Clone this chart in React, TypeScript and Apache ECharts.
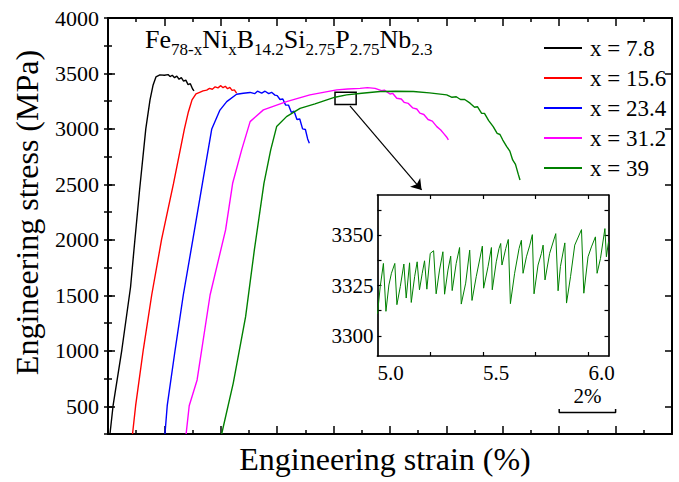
import React, { useEffect, useRef } from "react";
import * as echarts from "echarts";

const FONT = "Liberation Serif";

const legendNames = ["x = 7.8", "x = 15.6", "x = 23.4", "x = 31.2", "x = 39"];
const colors = ["#000000", "#ff0000", "#0000ff", "#ff00ff", "#008000"];

// x = 7.8
const strainA = [0.07, 0.18, 0.49, 0.8, 0.92, 1.12, 1.34, 1.49, 1.6, 1.7, 1.84, 2.0, 2.13, 2.2, 2.28, 2.36, 2.44, 2.52, 2.6, 2.68, 2.76, 2.84, 2.92, 3.0, 3.05];
const stressA = [250, 505, 1007, 1575, 1909, 2450, 3000, 3262, 3397, 3469, 3487, 3484, 3490, 3472, 3484, 3462, 3476, 3448, 3462, 3430, 3440, 3400, 3408, 3360, 3343];
// x = 15.6
const strainB = [0.87, 0.98, 1.25, 1.55, 1.9, 2.32, 2.71, 2.85, 2.98, 3.12, 3.25, 3.37, 3.5, 3.6, 3.7, 3.8, 3.9, 4.0, 4.08, 4.16, 4.24, 4.32, 4.4, 4.48, 4.56];
const stressB = [250, 505, 1007, 1503, 2004, 2504, 3000, 3153, 3262, 3316, 3330, 3343, 3350, 3366, 3358, 3380, 3370, 3390, 3372, 3385, 3362, 3375, 3348, 3352, 3322];
// x = 23.4
const strainC = [2.02, 2.1, 2.38, 2.67, 3.01, 3.38, 3.68, 3.97, 4.21, 4.56, 4.8, 5.04, 5.2, 5.3, 5.45, 5.57, 5.7, 5.8, 5.92, 6.0, 6.1, 6.2, 6.3, 6.4, 6.5, 6.6, 6.7, 6.8, 6.9, 7.0, 7.08, 7.14];
const stressC = [250, 505, 1007, 1503, 2004, 2556, 3000, 3170, 3246, 3313, 3322, 3329, 3318, 3340, 3322, 3340, 3318, 3330, 3305, 3300, 3265, 3270, 3215, 3215, 3150, 3160, 3085, 3090, 3000, 2995, 2910, 2871];
// x = 31.2
const strainD = [2.77, 2.88, 3.16, 3.62, 4.17, 4.42, 4.74, 5.04, 5.51, 6.33, 7.16, 8.11, 8.5, 8.94, 9.2, 9.47, 9.7, 9.8, 10.0, 10.1, 10.24, 10.4, 10.5, 10.65, 10.8, 10.95, 11.06, 11.2, 11.35, 11.5, 11.66, 11.8, 11.9, 12.0, 12.07];
const stressD = [250, 505, 737, 1503, 2090, 2510, 2811, 3066, 3172, 3246, 3307, 3352, 3360, 3366, 3372, 3366, 3345, 3350, 3315, 3320, 3277, 3270, 3240, 3230, 3190, 3180, 3142, 3130, 3085, 3070, 3021, 2990, 2960, 2930, 2901];
// x = 39
const strainE = [4.03, 4.44, 4.88, 5.19, 5.53, 5.77, 5.98, 6.33, 6.81, 7.34, 8.05, 8.46, 9.0, 9.65, 10.2, 10.83, 11.4, 12.01, 12.2, 12.35, 12.5, 12.65, 12.84, 13.0, 13.1, 13.25, 13.35, 13.5, 13.66, 13.8, 13.9, 14.0, 14.14, 14.25, 14.35, 14.45, 14.55, 14.61];
const stressE = [250, 707, 1308, 1909, 2510, 2811, 3021, 3111, 3186, 3226, 3286, 3307, 3322, 3337, 3340, 3337, 3325, 3307, 3285, 3290, 3265, 3265, 3232, 3195, 3200, 3140, 3140, 3075, 3021, 2960, 2950, 2900, 2841, 2800, 2720, 2680, 2590, 2540];

// inset (x = 39, serrated flow)
const insetStrain = [5.0, 5.013, 5.028, 5.04, 5.054, 5.066, 5.082, 5.092, 5.108, 5.125, 5.136, 5.152, 5.16, 5.176, 5.188, 5.199, 5.212, 5.223, 5.234, 5.25, 5.266, 5.278, 5.294, 5.31, 5.318, 5.334, 5.347, 5.354, 5.373, 5.389, 5.397, 5.418, 5.437, 5.448, 5.468, 5.497, 5.503, 5.524, 5.54, 5.544, 5.563, 5.576, 5.584, 5.59, 5.608, 5.62, 5.63, 5.65, 5.671, 5.682, 5.69, 5.706, 5.722, 5.734, 5.742, 5.761, 5.777, 5.785, 5.794, 5.816, 5.845, 5.856, 5.867, 5.888, 5.896, 5.915, 5.935, 5.967, 5.978, 5.998, 6.014, 6.033, 6.041, 6.057, 6.078, 6.085, 6.095];
const insetStress = [3311, 3324.5, 3336, 3312.2, 3325.3, 3331.1, 3336, 3315.5, 3324.5, 3335.7, 3318.8, 3336.3, 3316.6, 3329.4, 3336.8, 3322.9, 3331.1, 3337.3, 3323.2, 3341, 3342.3, 3320.9, 3332.7, 3341.8, 3320.7, 3332.7, 3339.6, 3322.5, 3336, 3343.9, 3315.8, 3326.2, 3342.6, 3317.6, 3329.4, 3344.6, 3323.7, 3334.4, 3343.9, 3322.9, 3336.8, 3343.4, 3345.9, 3335.2, 3343.4, 3347.9, 3316, 3331.1, 3343.4, 3347.5, 3331.1, 3339.3, 3345.1, 3350.3, 3320.9, 3335.2, 3341, 3345.1, 3327.8, 3341, 3350.8, 3322.4, 3334.4, 3346.2, 3316.3, 3329.4, 3345.1, 3352.8, 3321.2, 3339.3, 3344.2, 3349.2, 3331.1, 3338.5, 3353.3, 3339.3, 3346.7];

const yTickLabels = [500, 1000, 1500, 2000, 2500, 3000, 3500, 4000];
const insetXLabels = [5.0, 5.5, 6.0];
const insetXTicks = [5.25, 5.5, 5.75, 6.0];
const insetYLabels = [3300, 3325, 3350];
const insetYTicks = [3300, 3312.5, 3325, 3337.5, 3350, 3362.5];

// annotations (data coordinates)
const scaleBarStrain = [16, 16, 18, 18];
const scaleBarStress = [475, 444, 444, 475];
const zoomBox = [[8.05, 3330], [8.8, 3220]];
const arrowLine = [[8.58, 3208], [11.12, 2450]];
const scaleLabelAt = [17, 593];

const pairs = (xs: number[], ys: number[]) => xs.map((x, i) => [x, ys[i]]);

const curves = [
  [strainA, stressA],
  [strainB, stressB],
  [strainC, stressC],
  [strainD, stressD],
  [strainE, stressE],
];

const black = "#000";
const tickStyle = { color: black, width: 1.5 };
const plain = (v: number) => String(v);

export default function App() {
  const ref = useRef<HTMLDivElement>(null);
  useEffect(() => {
    if (!ref.current) return;
    const chart = echarts.init(ref.current, null, { renderer: "svg" });
    const mainLine = { show: true, onZero: false, lineStyle: { color: black, width: 2 } };
    const insetLine = { show: true, onZero: false, lineStyle: { color: black, width: 1.7 } };
    const option: any = {
      animation: false,
      backgroundColor: "#fff",
      textStyle: { fontFamily: FONT },
      grid: [
        { left: 108, top: 18, width: 564, height: 416, outerBoundsMode: "none" },
        { left: 377.5, top: 195, width: 231, height: 161, show: true, backgroundColor: "#fff", borderWidth: 0, outerBoundsMode: "none" },
      ],
      legend: {
        orient: "vertical",
        left: 539,
        top: 28,
        itemWidth: 38,
        itemHeight: 2,
        itemGap: 0,
        icon: "rect",
        data: legendNames,
        textStyle: { fontSize: 23, fontFamily: FONT, color: black, lineHeight: 30, padding: [0, 0, 0, 3] },
      },
      xAxis: [
        {
          type: "value", gridIndex: 0, position: "bottom", min: 0, max: 20, interval: 2,
          axisLine: mainLine,
          axisTick: { show: true, inside: true, length: 8, lineStyle: tickStyle },
          minorTick: { show: true, splitNumber: 2, length: 4, lineStyle: tickStyle },
          axisLabel: { show: false }, splitLine: { show: false }, minorSplitLine: { show: false },
          name: "Engineering strain (%)", nameLocation: "middle", nameGap: 9, nameMoveOverlap: false,
          nameTextStyle: { fontSize: 32, fontFamily: FONT, color: black, padding: [0, 10, 0, 0] },
        },
        {
          type: "value", gridIndex: 0, position: "top", min: 0, max: 20, interval: 2,
          axisLine: mainLine,
          axisTick: { show: true, inside: true, length: 8, lineStyle: tickStyle },
          minorTick: { show: true, splitNumber: 2, length: 4, lineStyle: tickStyle },
          axisLabel: { show: false }, splitLine: { show: false },
        },
        {
          type: "value", gridIndex: 1, position: "bottom", min: 5.0, max: 6.095,
          axisLine: insetLine,
          axisTick: { show: true, inside: true, length: 4, customValues: insetXTicks, lineStyle: { color: black, width: 1.2 } },
          axisLabel: { show: true, customValues: insetXLabels, formatter: (v: number) => v.toFixed(1), align: "left", margin: 6, fontSize: 21, fontFamily: FONT, color: black },
          splitLine: { show: false },
        },
        {
          type: "value", gridIndex: 1, position: "top", min: 5.0, max: 6.095,
          axisLine: insetLine,
          axisTick: { show: true, inside: true, length: 4, customValues: insetXTicks, lineStyle: { color: black, width: 1.2 } },
          axisLabel: { show: false }, splitLine: { show: false },
        },
      ],
      yAxis: [
        {
          type: "value", gridIndex: 0, position: "left", min: 250, max: 4000,
          axisLine: mainLine,
          axisTick: { show: true, inside: true, length: 7, customValues: yTickLabels, lineStyle: tickStyle },
          axisLabel: { show: true, customValues: yTickLabels, formatter: plain, margin: 9, fontSize: 22, fontFamily: FONT, color: black },
          splitLine: { show: false },
          name: "Engineering stress (MPa)", nameLocation: "middle", nameGap: 65, nameRotate: 90, nameMoveOverlap: false,
          nameTextStyle: { fontSize: 32, fontFamily: FONT, color: black, padding: [0, 0, 0, 27] },
        },
        {
          type: "value", gridIndex: 0, position: "left", min: 250, max: 4000, interval: 250,
          axisLine: { show: false },
          axisTick: { show: true, inside: true, length: 4, lineStyle: tickStyle },
          axisLabel: { show: false }, splitLine: { show: false },
        },
        {
          type: "value", gridIndex: 0, position: "right", min: 250, max: 4000,
          axisLine: mainLine,
          axisTick: { show: true, inside: true, length: 7, customValues: yTickLabels, lineStyle: tickStyle },
          axisLabel: { show: false }, splitLine: { show: false },
        },
        {
          type: "value", gridIndex: 0, position: "right", min: 250, max: 4000, interval: 250,
          axisLine: { show: false },
          axisTick: { show: true, inside: true, length: 4, lineStyle: tickStyle },
          axisLabel: { show: false }, splitLine: { show: false },
        },
        {
          type: "value", gridIndex: 1, position: "left", min: 3290, max: 3370,
          axisLine: insetLine,
          axisTick: { show: true, inside: true, length: 4, customValues: insetYTicks, lineStyle: { color: black, width: 1.2 } },
          axisLabel: { show: true, customValues: insetYLabels, formatter: plain, margin: 4, fontSize: 21, fontFamily: FONT, color: black },
          splitLine: { show: false },
        },
        {
          type: "value", gridIndex: 1, position: "right", min: 3290, max: 3370,
          axisLine: insetLine,
          axisTick: { show: true, inside: true, length: 4, customValues: insetYTicks, lineStyle: { color: black, width: 1.2 } },
          axisLabel: { show: false }, splitLine: { show: false },
        },
      ],
      graphic: [
        {
          type: "text",
          left: 145,
          top: 26.5,
          style: {
            text: "{m|Fe}{s|78-x}{m|Ni}{s|x}{m|B}{s|14.2}{m|Si}{s|2.75}{m|P}{s|2.75}{m|Nb}{s|2.3}",
            fill: black,
            rich: {
              m: { fontSize: 26, fontFamily: FONT, lineHeight: 36, verticalAlign: "middle", fill: black },
              s: { fontSize: 17, fontFamily: FONT, lineHeight: 17, verticalAlign: "bottom", fill: black },
            },
          },
        },
      ],
      series: [
        ...curves.map((c, i) => ({
          type: "line",
          name: legendNames[i],
          xAxisIndex: 0,
          yAxisIndex: 0,
          data: pairs(c[0], c[1]),
          symbol: "none",
          showSymbol: false,
          lineStyle: { color: colors[i], width: 1.4 },
          itemStyle: { color: colors[i] },
          z: 3,
        })),
        {
          type: "line",
          name: "inset",
          xAxisIndex: 2,
          yAxisIndex: 4,
          data: pairs(insetStrain, insetStress),
          symbol: "none",
          showSymbol: false,
          lineStyle: { color: "#008000", width: 1 },
          itemStyle: { color: "#008000" },
          z: 4,
        },
        {
          type: "line",
          name: "scale",
          xAxisIndex: 0,
          yAxisIndex: 0,
          data: pairs(scaleBarStrain, scaleBarStress),
          symbol: "none",
          showSymbol: false,
          silent: true,
          lineStyle: { color: black, width: 1.5 },
          itemStyle: { color: black },
          markPoint: {
            silent: true,
            symbol: "circle",
            symbolSize: 0,
            label: { show: true, position: "inside", formatter: "2%", fontSize: 21, fontFamily: FONT, color: black },
            data: [{ coord: scaleLabelAt }],
          },
          markArea: {
            silent: true,
            itemStyle: { color: "rgba(0,0,0,0)", borderColor: black, borderWidth: 1.5 },
            data: [[{ coord: zoomBox[0] }, { coord: zoomBox[1] }]],
          },
          markLine: {
            silent: true,
            symbol: ["none", "arrow"],
            symbolSize: 10,
            label: { show: false },
            lineStyle: { color: black, width: 1.2, type: "solid" },
            data: [[{ coord: arrowLine[0] }, { coord: arrowLine[1] }]],
          },
        },
      ],
    };
    chart.setOption(option);
    return () => chart.dispose();
  }, []);
  return (
    <div
      ref={ref}
      style={{ position: "absolute", left: 0, top: 0, width: 679, height: 482, background: "#fff" }}
    />
  );
}
